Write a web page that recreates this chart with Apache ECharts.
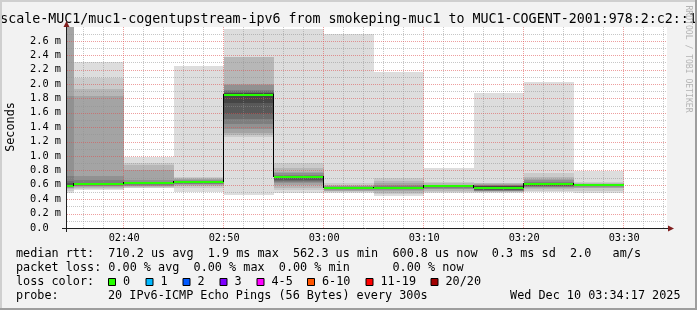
<!DOCTYPE html>
<html><head><meta charset="utf-8">
<script src="https://cdn.jsdelivr.net/npm/echarts@6/dist/echarts.min.js"></script>
<style>html,body{margin:0;padding:0;background:#f2f2f2}#c{width:697px;height:310px}</style>
</head><body><div id="c"></div>
<script>
// ---------- data ----------
const viewStart = '02:34:17';
const viewEnd = '03:34:17';
const binStart = ['02:30','02:35','02:40','02:45','02:50','02:55','03:00','03:05','03:10','03:15','03:20','03:25'];
const binEnd   = ['02:35','02:40','02:45','02:50','02:55','03:00','03:05','03:10','03:15','03:20','03:25','03:30'];
const median   = [0.58, 0.61, 0.62, 0.635, 1.85, 0.71, 0.56, 0.555, 0.58, 0.556, 0.605, 0.60];
const lossCount = [0,0,0,0,0,0,0,0,0,0,0,0];
// sorted ping round-trip times (ms) per 5-min step, 20 pings each
const ping01 = [0.48,0.53,0.55,0.50,0.46,0.49,0.48,0.45,0.49,0.49,0.50,0.49];
const ping02 = [0.52,0.545,0.56,0.55,1.27,0.53,0.50,0.47,0.505,0.50,0.52,0.52];
const ping03 = [0.54,0.56,0.57,0.58,1.29,0.56,0.51,0.49,0.52,0.505,0.54,0.55];
const ping04 = [0.55,0.57,0.58,0.595,1.32,0.60,0.52,0.51,0.535,0.51,0.555,0.56];
const ping05 = [0.56,0.58,0.59,0.605,1.38,0.62,0.53,0.525,0.545,0.515,0.565,0.57];
const ping06 = [0.57,0.59,0.60,0.615,1.45,0.645,0.54,0.535,0.56,0.52,0.575,0.58];
const ping07 = [0.57,0.60,0.605,0.62,1.52,0.655,0.545,0.54,0.565,0.525,0.585,0.59];
const ping08 = [0.58,0.60,0.61,0.625,1.59,0.67,0.55,0.545,0.57,0.53,0.59,0.595];
const ping09 = [0.58,0.605,0.615,0.63,1.73,0.69,0.555,0.55,0.575,0.535,0.595,0.60];
const ping10 = [0.58,0.61,0.62,0.635,1.84,0.705,0.558,0.555,0.579,0.54,0.60,0.604];
const ping11 = [0.59,0.61,0.62,0.64,1.86,0.71,0.561,0.56,0.581,0.575,0.61,0.605];
const ping12 = [0.60,0.615,0.625,0.64,1.87,0.712,0.563,0.565,0.583,0.58,0.615,0.606];
const ping13 = [0.62,0.62,0.63,0.645,1.88,0.715,0.565,0.57,0.585,0.585,0.62,0.606];
const ping14 = [0.65,0.63,0.635,0.65,1.90,0.72,0.57,0.575,0.588,0.59,0.63,0.607];
const ping15 = [0.72,0.66,0.645,0.655,1.92,0.735,0.575,0.583,0.59,0.595,0.645,0.608];
const ping16 = [1.83,0.72,0.67,0.665,1.99,0.76,0.58,0.60,0.595,0.60,0.66,0.61];
const ping17 = [2.90,1.84,0.81,0.675,1.995,0.78,0.59,0.62,0.60,0.61,0.675,0.615];
const ping18 = [2.95,1.93,0.87,0.69,2.37,0.833,0.60,0.657,0.62,0.62,0.71,0.62];
const ping19 = [3.00,2.09,0.90,0.71,2.38,0.90,0.62,0.69,0.643,0.625,0.76,0.643];
const ping20 = [3.05,2.31,0.98,2.25,2.76,2.77,2.69,2.16,0.84,1.88,2.03,0.79];

const xTickLabels = ['02:40','02:50','03:00','03:10','03:20','03:30'];
const yTickValues = [0,0.2,0.4,0.6,0.8,1.0,1.2,1.4,1.6,1.8,2.0,2.2,2.4,2.6];
const yMax = 2.792;

const lossLabels = ['0','1','2','3','4-5','6-10','11-19','20/20'];
const lossColors = ['#26ff00','#00b8ff','#0059ff','#7e00ff','#ff00ff','#ff5500','#ff0000','#a10000'];

const titleText = 'scale-MUC1/muc1-cogentupstream-ipv6 from smokeping-muc1 to MUC1-COGENT-2001:978:2:c2::1';
const statLine1 = 'median rtt:  710.2 us avg  1.9 ms max  562.3 us min  600.8 us now  0.3 ms sd  2.0   am/s';
const statLine2a = 'packet loss: 0.00 % avg  0.00 % max  0.00 % min';
const statLine2b = '0.00 % now';
const probeLabel = 'probe:';
const probeText = '20 IPv6-ICMP Echo Pings (56 Bytes) every 300s';
const dateText = 'Wed Dec 10 03:34:17 2025';

// ---------- helpers ----------
const pings = [ping01,ping02,ping03,ping04,ping05,ping06,ping07,ping08,ping09,ping10,
               ping11,ping12,ping13,ping14,ping15,ping16,ping17,ping18,ping19,ping20];
const toMin = s => { const p = s.split(':').map(Number); return p[0]*60 + p[1] + (p[2]||0)/60; };
const xMin = toMin(viewStart), xMax = toMin(viewEnd);
const fmtHM = m => { const h = Math.floor(m/60), mm = Math.round(m - h*60); return String(h).padStart(2,'0')+':'+String(mm).padStart(2,'0'); };
const MONO = '"DejaVu Sans Mono"';
const shade = k => { const g = Math.floor(190/10*(10-(k+1)))+50; const h = g.toString(16).padStart(2,'0'); return '#'+h+h+h; };
const lossColorOf = n => n===0?lossColors[0]:n===1?lossColors[1]:n===2?lossColors[2]:n===3?lossColors[3]:n<=5?lossColors[4]:n<=10?lossColors[5]:n<=19?lossColors[6]:lossColors[7];

const binData = binStart.map((s,i)=>[toMin(s), median[i]]);

function smokeItem(params, api) {
  const i = params.dataIndex, cs = params.coordSys;
  const t0 = Math.max(toMin(binStart[i]), xMin), t1 = Math.min(toMin(binEnd[i]), xMax);
  const children = [];
  for (let k = 0; k < 10; k++) {
    const a = api.coord([t0, pings[19-k][i]]), b = api.coord([t1, pings[k][i]]);
    const x0 = Math.round(a[0]), x1 = Math.round(b[0]);
    const y0 = Math.round(Math.max(a[1], cs.y)), y1 = Math.round(Math.min(b[1], cs.y+cs.height));
    if (y1 > y0 && x1 > x0) children.push({type:'rect', shape:{x:x0,y:y0,width:x1-x0,height:y1-y0}, style:{fill:shade(k)}});
  }
  return {type:'group', children};
}

function gridItem(params, api) {
  const cs = params.coordSys, children = [];
  const minorC = 'rgba(143,143,143,0.5)', majorC = 'rgba(222,79,79,0.55)';
  for (let m = Math.ceil(xMin/2)*2; m < xMax; m += 2) {
    const x = Math.round(api.coord([m, 0])[0]) - 0.5;
    children.push({type:'line', shape:{x1:x,y1:cs.y,x2:x,y2:cs.y+cs.height}, style:{stroke: m%10===0?majorC:minorC, lineWidth:1, lineDash:[1,1]}});
  }
  for (let j = 1; j*0.1 < yMax; j++) {
    const y = Math.round(api.coord([xMin, j*0.1])[1]) + 0.5;
    children.push({type:'line', shape:{x1:cs.x,y1:y,x2:cs.x+cs.width,y2:y}, style:{stroke: j%2===0?majorC:minorC, lineWidth:1, lineDash:[1,1]}});
  }
  return {type:'group', children};
}

function medianItem(params, api) {
  const i = params.dataIndex;
  const t0 = Math.max(toMin(binStart[i]), xMin), t1 = Math.min(toMin(binEnd[i]), xMax);
  const a = api.coord([t0, median[i]]), b = api.coord([t1, median[i]]);
  const x0 = Math.round(a[0]), x1 = Math.round(b[0]), y = Math.round(a[1]);
  const children = [];
  if (i > 0 && toMin(binStart[i]) > xMin) {
    const yp = Math.round(api.coord([t0, median[i-1]])[1]);
    children.push({type:'rect', shape:{x:x0-1, y:Math.min(yp,y)-1, width:1, height:Math.abs(yp-y)+1}, style:{fill:'#000'}});
  }
  children.push({type:'rect', shape:{x:x0, y:y-1, width:x1-x0, height:2}, style:{fill:lossColorOf(lossCount[i])}});
  return {type:'group', children};
}

// ---------- graphics (text & frame) ----------
const T = (text, x, y, size, opts={}) => Object.assign({type:'text', x, y, z:20, style:{text, x:0, y:0, font: size+'px '+MONO, fill: opts.fill||'#000', align: opts.align||'left', verticalAlign:'middle', textAlign: opts.align||'left', textVerticalAlign:'middle'}}, opts.rotation!==undefined?{rotation:opts.rotation}:{});
const graphics = [
  {type:'rect', shape:{x:0,y:0,width:697,height:2}, style:{fill:'#cfcfcf'}, z:30},
  {type:'rect', shape:{x:0,y:0,width:2,height:310}, style:{fill:'#cfcfcf'}, z:30},
  {type:'rect', shape:{x:0,y:308,width:697,height:2}, style:{fill:'#9e9e9e'}, z:30},
  {type:'rect', shape:{x:695,y:0,width:2,height:310}, style:{fill:'#9e9e9e'}, z:30},
  T(titleText, 348.5, 20, 13.3, {align:'center'}),
  T('Seconds', 11, 127, 11.8, {align:'center', rotation: Math.PI/2}),
  T('RRDTOOL / TOBI OETIKER', 688, 59, 8.1, {align:'center', rotation: -Math.PI/2, fill:'#b4b4b4'}),
  {type:'line', shape:{x1:62,y1:228.5,x2:669,y2:228.5}, style:{stroke:'#1f1f1f', lineWidth:1}, z:20},
  {type:'line', shape:{x1:66.5,y1:25,x2:66.5,y2:232}, style:{stroke:'#1f1f1f', lineWidth:1}, z:20},
  {type:'polygon', shape:{points:[[63.5,27],[69.5,27],[66.5,21]]}, style:{fill:'#801f1f'}, z:21},
  {type:'polygon', shape:{points:[[668,225.5],[668,231.5],[674,228.5]]}, style:{fill:'#801f1f'}, z:21},
  T(statLine1, 16, 254, 11.8),
  T(statLine2a, 16, 268, 11.8),
  T(statLine2b, 392.5, 268, 11.8),
  T('loss color:', 16, 282, 11.8),
  T(probeLabel, 16, 296, 11.8),
  T(probeText, 108, 296, 11.8),
  T(dateText, 680.5, 296, 11.8, {align:'right'})
];
const boxX = [108, 145.5, 182.5, 219.5, 256.5, 307, 365.5, 430.5];
lossLabels.forEach((lab, i) => {
  graphics.push({type:'rect', shape:{x:boxX[i]+0.5, y:278.5, width:7, height:7}, style:{fill:lossColors[i], stroke:'#000', lineWidth:1}, z:20});
  graphics.push(T(lab, boxX[i]+15, 282, 11.8));
});

const chart = echarts.init(document.getElementById('c'), null, {renderer:'canvas'});
chart.setOption({
  backgroundColor:'#f2f2f2',
  animation:false,
  grid:{left:67, right:30, top:27, bottom:82, show:true, backgroundColor:'#ffffff', borderWidth:0},
  xAxis:{type:'value', min:xMin, max:xMax,
    axisLine:{show:false}, axisTick:{show:false}, splitLine:{show:false},
    axisLabel:{customValues: xTickLabels.map(toMin), formatter: v => fmtHM(v), fontFamily:MONO, fontSize:10.3, color:'#000', margin:5}},
  yAxis:{type:'value', min:0, max:yMax,
    axisLine:{show:false}, axisTick:{show:false}, splitLine:{show:false},
    axisLabel:{customValues: yTickValues, formatter: v => v===0 ? '0.0  ' : v.toFixed(1)+' m', fontFamily:MONO, fontSize:10.3, color:'#000', margin:6}},
  graphic: graphics,
  series:[
    {type:'custom', renderItem: smokeItem, data: binData, z:2, silent:true},
    {type:'custom', renderItem: gridItem, data: [[xMin,0]], z:3, silent:true},
    {type:'custom', renderItem: medianItem, data: binData, z:4, silent:true}
  ]
});
</script></body></html>
